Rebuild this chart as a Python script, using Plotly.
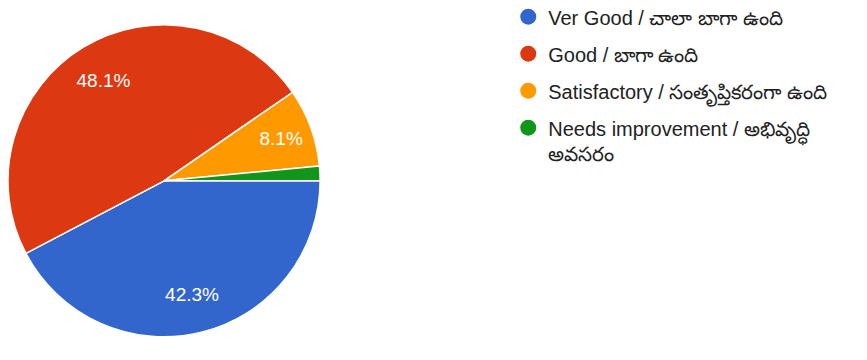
import plotly.graph_objects as go

labels = [
    "Ver Good / చాలా బాగా ఉంది",
    "Good / బాగా ఉంది",
    "Satisfactory / సంతృప్తికరంగా ఉంది",
    "Needs improvement / అభివృద్ధి<br>అవసరం",
]
values = [42.3, 48.1, 8.1, 1.5]
colors = ["#3366cc", "#dc3912", "#ff9900", "#109618"]

pie_domain = dict(x=[0, 0.36], y=[0.06, 0.98])

fig = go.Figure()
# filled pie
fig.add_trace(go.Pie(
    labels=labels,
    values=values,
    sort=False,
    direction="clockwise",
    rotation=90,
    marker=dict(colors=colors, line=dict(color="white", width=1.5)),
    textinfo="none",
    showlegend=False,
    domain=pie_domain,
    hoverinfo="label+percent",
))
# transparent ring that carries the percentage labels further out
fig.add_trace(go.Pie(
    labels=labels,
    values=values,
    sort=False,
    direction="clockwise",
    rotation=90,
    hole=0.5,
    marker=dict(colors=["rgba(0,0,0,0)"] * len(values), line=dict(width=0)),
    texttemplate=["%{percent:.1%}" if v >= 5 else "" for v in values],
    textposition="inside",
    insidetextorientation="horizontal",
    textfont=dict(color="white", size=19, family="Liberation Sans, Arial"),
    showlegend=False,
    domain=pie_domain,
    hoverinfo="skip",
))

for i, (lab, col) in enumerate(zip(labels, colors)):
    fig.add_trace(go.Scatter(
        x=[None], y=[None], mode="markers", name=lab,
        legendgroup=f"g{i}",
        marker=dict(symbol="circle", size=20, color=col),
        showlegend=True,
    ))

fig.update_layout(
    width=867, height=360,
    margin=dict(l=0, r=0, t=0, b=0, autoexpand=False),
    paper_bgcolor="white", plot_bgcolor="white",
    xaxis=dict(visible=False, domain=[0.99, 1]),
    yaxis=dict(visible=False),
    legend=dict(
        x=0.577, y=1.03, xanchor="left", yanchor="top",
        font=dict(size=20, color="#222222", family="Liberation Sans, Arial, Noto Sans"),
        tracegroupgap=8,
        valign="top",
        itemsizing="trace",
        bgcolor="rgba(0,0,0,0)",
    ),
)

fig.write_html("out.html")
